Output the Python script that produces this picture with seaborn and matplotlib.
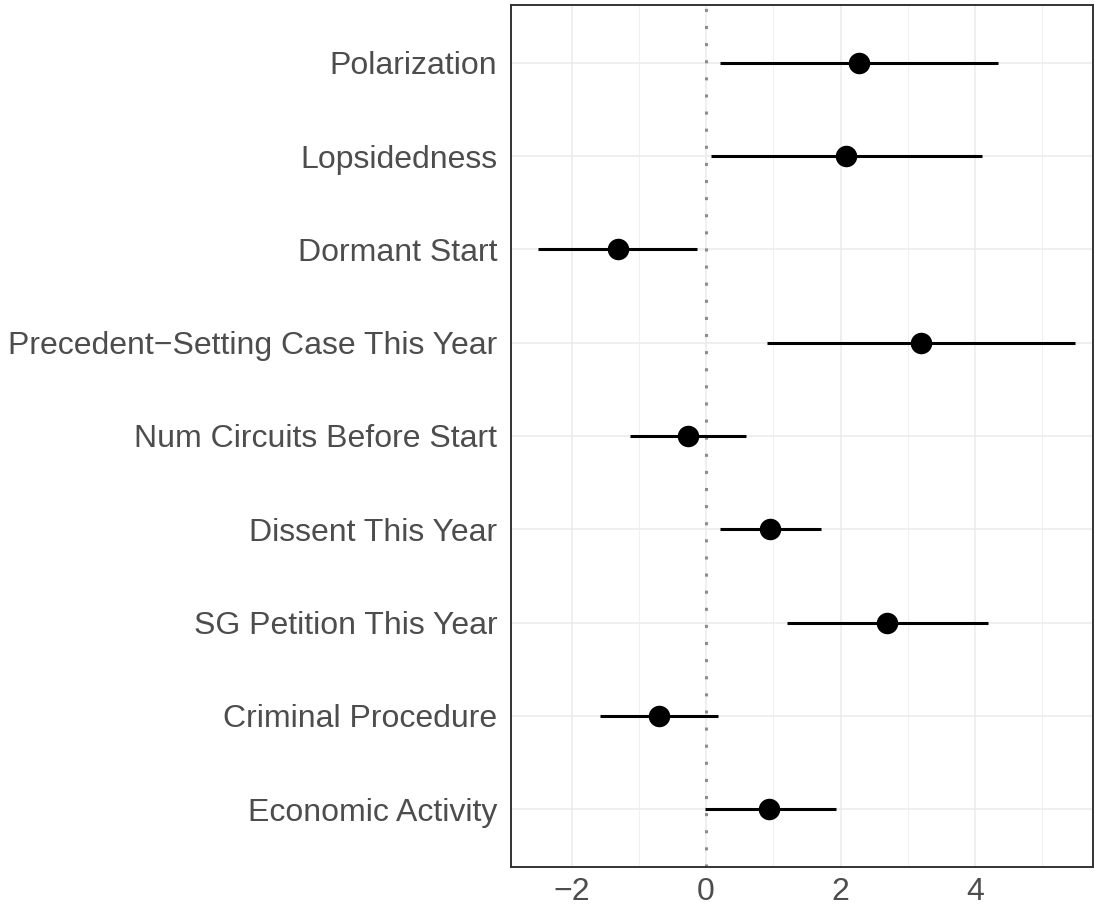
import matplotlib

matplotlib.use("Agg")

import matplotlib.pyplot as plt
import numpy as np
import pandas as pd
import seaborn as sns


# top to bottom, as in the figure
VARIABLES = [
    "Polarization",
    "Lopsidedness",
    "Dormant Start",
    "Precedent\u2212Setting Case This Year",
    "Num Circuits Before Start",
    "Dissent This Year",
    "SG Petition This Year",
    "Criminal Procedure",
    "Economic Activity",
]
ESTIMATES = [2.27, 2.08, -1.31, 3.19, -0.27, 0.95, 2.69, -0.70, 0.94]
LOWER = [0.21, 0.07, -2.50, 0.91, -1.13, 0.21, 1.20, -1.58, -0.01]
UPPER = [4.34, 4.10, -0.13, 5.48, 0.59, 1.71, 4.19, 0.18, 1.93]


def main():
    sns.set_theme(style="white")
    plt.rcParams["font.family"] = ["Liberation Sans", "DejaVu Sans"]

    df = pd.DataFrame(
        {"variable": VARIABLES, "estimate": ESTIMATES, "lower": LOWER, "upper": UPPER}
    )
    df["pos"] = np.arange(len(df))[::-1]

    fig = plt.figure(figsize=(10.95, 9.07), dpi=100)
    ax = fig.add_axes([0.4667, 0.0441, 0.998 - 0.4667, 0.9945 - 0.0441])

    # grid like theme_bw
    for x in [-2, 0, 2, 4]:
        ax.axvline(x, color="#EBEBEB", lw=1.1, zorder=0)
    for x in [-3, -1, 1, 3, 5]:
        ax.axvline(x, color="#F0F0F0", lw=0.8, zorder=0)
    for y in df["pos"]:
        ax.axhline(y, color="#EBEBEB", lw=1.1, zorder=0)

    ax.axvline(0, color="#8C8C8C", lw=2.2, linestyle=(0, (1, 4.6)), zorder=1)

    ax.hlines(df["pos"], df["lower"], df["upper"], color="black", lw=2.2, zorder=2)
    sns.scatterplot(
        data=df, x="estimate", y="pos", s=240, color="black",
        edgecolor="black", linewidth=0, ax=ax, zorder=3, legend=False,
    )

    ax.set_xlim(-2.90, 5.75)
    ax.set_ylim(-0.62, len(df) - 1 + 0.62)
    ax.set_xticks([-2, 0, 2, 4])
    ax.set_xticklabels(["\u22122", "0", "2", "4"])
    ax.set_yticks(df["pos"])
    ax.set_yticklabels(df["variable"])
    ax.set_xlabel("")
    ax.set_ylabel("")

    ax.tick_params(axis="both", labelsize=23, labelcolor="#4D4D4D",
                   length=4, width=1.1, color="#333333", pad=3)
    ax.tick_params(axis="y", length=4, pad=6)
    for spine in ax.spines.values():
        spine.set_visible(True)
        spine.set_color("#333333")
        spine.set_linewidth(1.4)

    fig.savefig("out.png", dpi=100, facecolor="white")
    plt.close(fig)


if __name__ == "__main__":
    main()
